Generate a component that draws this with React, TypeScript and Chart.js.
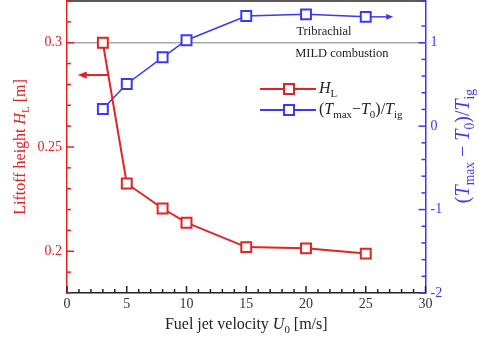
import React, { useEffect, useRef } from "react";
import { Chart, registerables } from "chart.js";

Chart.register(...registerables);

// ---- data ----
const velocities = [3, 5, 8, 10, 15, 20, 25];
const liftoffHeight = [0.3, 0.2325, 0.2205, 0.2137, 0.202, 0.2014, 0.1989];
const tempRatio = [0.206, 0.505, 0.825, 1.03, 1.32, 1.34, 1.31];
const xTickLabels = ["0", "5", "10", "15", "20", "25", "30"];
const leftTickLabels = ["0.2", "0.25", "0.3"];
const rightTickLabels = ["-2", "-1", "0", "1"];
const regimeBoundary = 1; // on right axis
const regimeLabels = ["Tribrachial", "MILD combustion"];
// arrows: [xFrom, xTo, yValue]
const redArrow = [3.45, 0.9, 0.2845];
const blueArrow = [25, 27.3, 1.31];

const RED = "#e02424";
const BLUE = "#3a3af2";
const FONT = "'Liberation Serif', 'Times New Roman', serif";

type Part = { t: string; i?: boolean; s?: boolean };

function partFont(p: Part, size: number) {
  const sz = p.s ? size * 0.68 : size;
  return `${p.i ? "italic " : ""}${sz}px ${FONT}`;
}

function drawRich(ctx: CanvasRenderingContext2D, parts: Part[], x: number, y: number, size: number, color: string, align: "left" | "center") {
  ctx.save();
  ctx.fillStyle = color;
  ctx.textBaseline = "middle";
  ctx.textAlign = "left";
  let total = 0;
  for (const p of parts) {
    ctx.font = partFont(p, size);
    total += ctx.measureText(p.t).width;
  }
  let cx = align === "center" ? x - total / 2 : x;
  for (const p of parts) {
    ctx.font = partFont(p, size);
    ctx.fillText(p.t, cx, p.s ? y + size * 0.3 : y);
    cx += ctx.measureText(p.t).width;
  }
  ctx.restore();
}

const decorPlugin = {
  id: "decor",
  beforeDatasetsDraw(chart: any) {
    const { ctx, chartArea } = chart;
    const y1 = chart.scales.y1;
    const py = y1.getPixelForValue(regimeBoundary);
    ctx.save();
    ctx.strokeStyle = "#a8a8a8";
    ctx.lineWidth = 1.5;
    ctx.beginPath();
    ctx.moveTo(chartArea.left, py);
    ctx.lineTo(chartArea.right, py);
    ctx.stroke();
    ctx.restore();
  },
  afterDraw(chart: any) {
    const { ctx, chartArea } = chart;
    const xs = chart.scales.x;
    const ys = chart.scales.y;
    const y1 = chart.scales.y1;

    // top border
    ctx.save();
    ctx.strokeStyle = "#222";
    ctx.lineWidth = 1.5;
    ctx.beginPath();
    ctx.moveTo(chartArea.left, chartArea.top);
    ctx.lineTo(chartArea.right, chartArea.top);
    ctx.stroke();

    // inward ticks
    const drawTicks = (scale: any, color: string, dir: number, horizontal: boolean, isMajor: (v: number) => boolean, base: number) => {
      ctx.strokeStyle = color;
      ctx.lineWidth = 1.5;
      for (const t of scale.ticks) {
        const p = scale.getPixelForValue(t.value);
        const len = isMajor(t.value) ? 7 : 4;
        ctx.beginPath();
        if (horizontal) {
          ctx.moveTo(p, base);
          ctx.lineTo(p, base + dir * len);
        } else {
          ctx.moveTo(base, p);
          ctx.lineTo(base + dir * len, p);
        }
        ctx.stroke();
      }
    };
    drawTicks(xs, "#222", -1, true, (v) => Math.round(v) % 5 === 0, chartArea.bottom);
    drawTicks(ys, RED, 1, false, (v) => Math.round(v * 100) % 5 === 0, chartArea.left);
    drawTicks(y1, BLUE, -1, false, (v) => Math.abs(v - Math.round(v)) < 1e-6, chartArea.right);
    ctx.restore();

    // regime annotations
    const by = y1.getPixelForValue(regimeBoundary);
    ctx.save();
    ctx.fillStyle = "#222";
    ctx.font = `12.5px ${FONT}`;
    ctx.textAlign = "center";
    ctx.textBaseline = "middle";
    ctx.fillText(regimeLabels[0], xs.getPixelForValue(21.5), by - 11);
    ctx.fillText(regimeLabels[1], xs.getPixelForValue(23), by + 11);
    ctx.restore();

    // arrows
    const arrow = (x0: number, x1: number, py: number, color: string, lw: number, head: number) => {
      ctx.save();
      ctx.strokeStyle = color;
      ctx.fillStyle = color;
      ctx.lineWidth = lw;
      const dir = Math.sign(x1 - x0);
      ctx.beginPath();
      ctx.moveTo(x0, py);
      ctx.lineTo(x1 - dir * head * 0.8, py);
      ctx.stroke();
      ctx.beginPath();
      ctx.moveTo(x1, py);
      ctx.lineTo(x1 - dir * head, py - head * 0.4);
      ctx.lineTo(x1 - dir * head, py + head * 0.4);
      ctx.closePath();
      ctx.fill();
      ctx.restore();
    };
    arrow(xs.getPixelForValue(redArrow[0]), xs.getPixelForValue(redArrow[1]), ys.getPixelForValue(redArrow[2]), RED, 2, 9);
    arrow(xs.getPixelForValue(blueArrow[0]) + 5, xs.getPixelForValue(blueArrow[1]), y1.getPixelForValue(blueArrow[2]), BLUE, 1.5, 7);

    // legend
    const legend = (py: number, color: string, parts: Part[]) => {
      ctx.save();
      ctx.strokeStyle = color;
      ctx.lineWidth = 2;
      ctx.beginPath();
      ctx.moveTo(260, py);
      ctx.lineTo(316, py);
      ctx.stroke();
      ctx.fillStyle = "#fff";
      ctx.fillRect(284, py - 5, 10, 10);
      ctx.strokeRect(284, py - 5, 10, 10);
      ctx.restore();
      drawRich(ctx, parts, 319, py, 16, "#222", "left");
    };
    legend(89, RED, [{ t: "H", i: true }, { t: "L", s: true }]);
    legend(110, BLUE, [
      { t: "(" }, { t: "T", i: true }, { t: "max", s: true }, { t: "\u2212" },
      { t: "T", i: true }, { t: "0", s: true }, { t: ")/" }, { t: "T", i: true }, { t: "ig", s: true },
    ]);

    // axis titles
    drawRich(ctx, [{ t: "Fuel jet velocity " }, { t: "U", i: true }, { t: "0", s: true }, { t: " [m/s]" }],
      (chartArea.left + chartArea.right) / 2, 325, 16, "#222", "center");

    ctx.save();
    ctx.translate(21, 147);
    ctx.rotate(-Math.PI / 2);
    drawRich(ctx, [{ t: "Liftoff height " }, { t: "H", i: true }, { t: "L", s: true }, { t: " [m]" }], 0, 0, 16, RED, "center");
    ctx.restore();

    ctx.save();
    ctx.translate(464, 146);
    ctx.rotate(-Math.PI / 2);
    drawRich(ctx, [
      { t: "(" }, { t: "T", i: true }, { t: "max", s: true }, { t: " \u2212 " },
      { t: "T", i: true }, { t: "0", s: true }, { t: ")/" }, { t: "T", i: true }, { t: "ig", s: true },
    ], 0, 0, 20, BLUE, "center");
    ctx.restore();
  },
};

const fitV = (w: number) => (s: any) => {
  s.width = w;
  s.paddingTop = 0;
  s.paddingBottom = 0;
};

export default function App() {
  const ref = useRef<HTMLCanvasElement>(null);
  useEffect(() => {
    if (!ref.current) return;
    const chart = new Chart(ref.current, {
      type: "line",
      data: {
        datasets: [
          {
            label: "H_L",
            data: velocities.map((v, i) => ({ x: v, y: liftoffHeight[i] })),
            borderColor: RED,
            backgroundColor: "#fff",
            borderWidth: 2,
            pointStyle: "rect",
            pointRadius: 7,
            pointBorderWidth: 2,
            yAxisID: "y",
            clip: false as any,
          },
          {
            label: "(Tmax-T0)/Tig",
            data: velocities.map((v, i) => ({ x: v, y: tempRatio[i] })),
            borderColor: BLUE,
            backgroundColor: "#fff",
            borderWidth: 1.5,
            pointStyle: "rect",
            pointRadius: 7,
            pointBorderWidth: 2,
            yAxisID: "y1",
            clip: false as any,
          },
        ],
      },
      options: {
        animation: false,
        responsive: false,
        layout: { autoPadding: false, padding: { top: 1, left: 0, right: 0, bottom: 0 } },
        plugins: { legend: { display: false }, tooltip: { enabled: false } },
        scales: {
          x: {
            type: "linear",
            min: 0,
            max: 30,
            afterFit: (s: any) => { s.height = 46; s.paddingLeft = 0; s.paddingRight = 0; },
            ticks: {
              stepSize: 1,
              autoSkip: false,
              maxRotation: 0,
              padding: 3,
              color: "#333",
              font: { family: FONT, size: 14 },
              callback: (v: any) => (Math.round(v) % 5 === 0 ? xTickLabels[Math.round(v) / 5] : ""),
            },
            grid: { display: false, drawTicks: false },
            border: { color: "#222", width: 1.5 },
          },
          y: {
            type: "linear",
            position: "left",
            min: 0.18,
            max: 0.32,
            afterFit: fitV(67),
            ticks: {
              stepSize: 0.01,
              autoSkip: false,
              padding: 5,
              color: RED,
              font: { family: FONT, size: 14 },
              callback: (v: any) => {
                const k = Math.round(v * 100);
                return k % 5 === 0 && k >= 20 && k <= 30 ? leftTickLabels[(k - 20) / 5] : "";
              },
            },
            grid: { display: false, drawTicks: false },
            border: { color: RED, width: 1.5 },
          },
          y1: {
            type: "linear",
            position: "right",
            min: -2,
            max: 1.5,
            afterFit: fitV(53.5),
            ticks: {
              stepSize: 0.2,
              autoSkip: false,
              padding: 5,
              color: BLUE,
              font: { family: FONT, size: 14 },
              callback: (v: any) => {
                const r = Math.round(v);
                return Math.abs(v - r) < 1e-6 && r >= -2 && r <= 1 ? rightTickLabels[r + 2] : "";
              },
            },
            grid: { display: false, drawTicks: false },
            border: { color: BLUE, width: 1.5 },
          },
        },
      },
      plugins: [decorPlugin],
    });
    return () => chart.destroy();
  }, []);
  return (
    <div style={{ position: "absolute", left: 0, top: 0, width: 479, height: 339, background: "#fff" }}>
      <canvas ref={ref} width={479} height={339} style={{ width: 479, height: 339 }} />
    </div>
  );
}
